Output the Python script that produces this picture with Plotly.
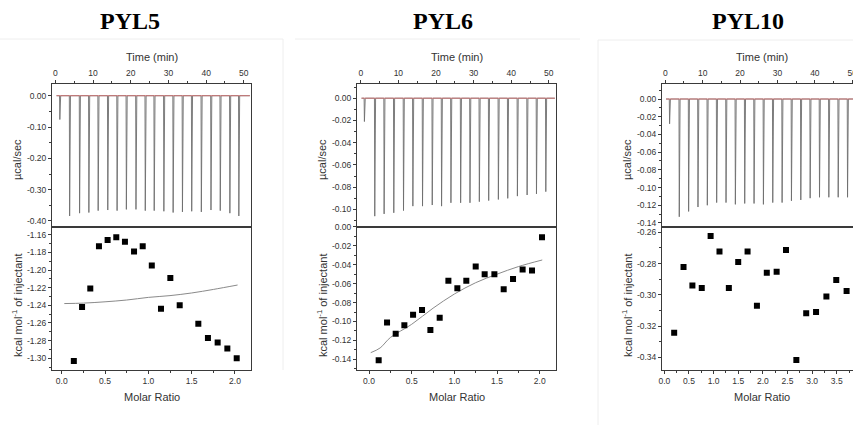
import plotly.graph_objects as go

W, H = 853, 425
FONT = "Liberation Sans, Arial, sans-serif"

panel_names = ["PYL5", "PYL6", "PYL10"]

# ---- raw ITC traces: injection times (min) and peak heights (ucal/sec)
pyl5_inj_t = [1.1, 3.70, 6.34, 8.80, 11.27, 13.82, 16.29, 18.75, 21.30, 23.77, 26.14,
              28.70, 31.16, 33.63, 36.09, 38.64, 41.20, 43.66, 46.21, 48.59]
pyl5_inj_peak = [-0.076, -0.384, -0.375, -0.373, -0.367, -0.365, -0.367, -0.363, -0.363, -0.367,
                 -0.367, -0.369, -0.373, -0.371, -0.369, -0.371, -0.365, -0.367, -0.375, -0.384]

pyl6_inj_t = [0.89, 3.64, 6.13, 8.70, 11.28, 13.77, 16.34, 18.92, 21.40, 23.89, 26.47,
              28.95, 31.44, 33.93, 36.50, 38.99, 41.56, 44.14, 46.63, 49.11]
pyl6_inj_peak = [-0.021, -0.106, -0.104, -0.103, -0.101, -0.097, -0.097, -0.096, -0.097, -0.094,
                 -0.094, -0.094, -0.093, -0.092, -0.091, -0.090, -0.088, -0.087, -0.086, -0.084]

pyl10_inj_t = [1.07, 3.66, 6.16, 8.66, 11.16, 13.66, 16.16, 18.66, 21.16, 23.66, 26.16,
               28.66, 31.16, 33.66, 36.16, 38.66, 41.16, 43.66, 46.16, 48.66]
pyl10_inj_peak = [-0.028, -0.133, -0.127, -0.122, -0.120, -0.117, -0.117, -0.119, -0.118, -0.118,
                  -0.119, -0.117, -0.117, -0.115, -0.114, -0.112, -0.111, -0.111, -0.111, -0.111]

trace_start = [0.3, 0.2, 0.2]
trace_end = [51.6, 51.6, 50.5]

# ---- integrated heats (kcal/mol of injectant) vs molar ratio
pyl5_ratio = [0.14, 0.235, 0.33, 0.43, 0.53, 0.63, 0.73, 0.835, 0.935, 1.04, 1.146,
              1.254, 1.362, 1.577, 1.688, 1.80, 1.912, 2.02]
pyl5_heat = [-1.303, -1.242, -1.221, -1.173, -1.166, -1.163, -1.168, -1.179, -1.173, -1.195,
             -1.244, -1.209, -1.240, -1.261, -1.277, -1.282, -1.289, -1.300]
pyl5_fit_ratio = [0.03, 0.25, 0.5, 0.75, 1.0, 1.25, 1.5, 1.75, 2.03]
pyl5_fit_heat = [-1.238, -1.2375, -1.236, -1.234, -1.231, -1.229, -1.226, -1.222, -1.217]

pyl6_ratio = [0.113, 0.211, 0.3125, 0.414, 0.516, 0.621, 0.719, 0.828, 0.93, 1.035,
              1.14, 1.25, 1.355, 1.469, 1.578, 1.6875, 1.80, 1.91, 2.027]
pyl6_heat = [-0.141, -0.101, -0.113, -0.104, -0.093, -0.088, -0.109, -0.096, -0.057, -0.065,
             -0.057, -0.042, -0.050, -0.050, -0.066, -0.055, -0.045, -0.046, -0.011]
pyl6_fit_ratio = [0.02, 0.13, 0.25, 0.5, 0.75, 1.0, 1.25, 1.5, 1.75, 2.03]
pyl6_fit_heat = [-0.133, -0.128, -0.117, -0.103, -0.086, -0.071, -0.059, -0.050, -0.042, -0.035]

pyl10_ratio = [0.20, 0.39, 0.57, 0.76, 0.94, 1.12, 1.31, 1.50, 1.69, 1.88, 2.08,
               2.28, 2.47, 2.68, 2.88, 3.08, 3.29, 3.49, 3.70]
pyl10_heat = [-0.3242, -0.2822, -0.294, -0.2956, -0.2623, -0.2722, -0.2956, -0.279, -0.2722,
              -0.307, -0.2858, -0.2852, -0.2713, -0.3417, -0.3118, -0.311, -0.301, -0.2905, -0.2975]

# ---- tick labels
time_ticks = [0, 10, 20, 30, 40, 50]
pyl5_raw_ticks = [0.0, -0.10, -0.20, -0.30, -0.40]
pyl6_raw_ticks = [0.0, -0.02, -0.04, -0.06, -0.08, -0.10]
pyl10_raw_ticks = [0.0, -0.02, -0.04, -0.06, -0.08, -0.10, -0.12, -0.14]
pyl5_heat_ticks = [-1.16, -1.18, -1.20, -1.22, -1.24, -1.26, -1.28, -1.30]
pyl6_heat_ticks = [0.0, -0.02, -0.04, -0.06, -0.08, -0.10, -0.12, -0.14]
pyl10_heat_ticks = [-0.26, -0.28, -0.30, -0.32, -0.34]
ratio_ticks_2 = [0.0, 0.5, 1.0, 1.5, 2.0]
ratio_ticks_35 = [0.0, 0.5, 1.0, 1.5, 2.0, 2.5, 3.0, 3.5]

panels = [
    dict(t=pyl5_inj_t, p=pyl5_inj_peak, rx=pyl5_ratio, ry=pyl5_heat,
         fx=pyl5_fit_ratio, fy=pyl5_fit_heat,
         left=52, right=251, time_range=[-0.9, 51.9], raw_range=[-0.4176, 0.039],
         raw_ticks=pyl5_raw_ticks, raw_minor=0.05,
         heat_range=[-1.3127, -1.1507], heat_ticks=pyl5_heat_ticks,
         ratio_range=[-0.112, 2.185], ratio_ticks=ratio_ticks_2, mirror=True),
    dict(t=pyl6_inj_t, p=pyl6_inj_peak, rx=pyl6_ratio, ry=pyl6_heat,
         fx=pyl6_fit_ratio, fy=pyl6_fit_heat,
         left=357, right=556, time_range=[-1.0, 51.9], raw_range=[-0.1153, 0.0132],
         raw_ticks=pyl6_raw_ticks, raw_minor=0.01,
         heat_range=[-0.1508, 0.0004], heat_ticks=pyl6_heat_ticks,
         ratio_range=[-0.141, 2.191], ratio_ticks=ratio_ticks_2, mirror=True),
    dict(t=pyl10_inj_t, p=pyl10_inj_peak, rx=pyl10_ratio, ry=pyl10_heat,
         fx=None, fy=None,
         left=662, right=853, time_range=[-0.88, 50.2], raw_range=[-0.144, 0.0175],
         raw_ticks=pyl10_raw_ticks, raw_minor=0.01,
         heat_range=[-0.3477, -0.2563], heat_ticks=pyl10_heat_ticks,
         ratio_range=[-0.047, 3.83], ratio_ticks=ratio_ticks_35, mirror=False),
]

TOP, MID, BOT = 83.5, 226.5, 369.5


def py(v):
    return 1 - v / H


def raw_xy(times, peaks, t0, t1):
    xs, ys = [t0], [0.0]
    for t, p in zip(times, peaks):
        xs += [t, t + 0.08, t + 0.3]
        ys += [0.0, p, 0.0]
    xs.append(t1)
    ys.append(0.0)
    return xs, ys


def fmt(vals, d):
    return [f"{v:.{d}f}" for v in vals]


axis_base = dict(showline=True, linecolor="#3a3a3a", linewidth=1, ticks="outside",
                 ticklen=3, tickwidth=1, tickcolor="#3a3a3a", showgrid=False,
                 zeroline=False, ticklabeloverflow="allow", automargin=False,
                 tickfont=dict(family=FONT, size=8.5, color="#333"))

fig = go.Figure()
layout = {}
ann = []

for i, pn in enumerate(panels):
    a_top, a_bot = 2 * i + 1, 2 * i + 2
    xd = [pn["left"] / W, min(pn["right"] / W, 1.0)]

    xs, ys = raw_xy(pn["t"], pn["p"], trace_start[i], trace_end[i])
    fig.add_trace(go.Scatter(x=xs, y=ys, mode="lines", line=dict(color="#6e6e6e", width=0.9),
                             xaxis=f"x{a_top}", yaxis=f"y{a_top}", showlegend=False))
    fig.add_trace(go.Scatter(x=[trace_start[i], trace_end[i]], y=[0, 0], mode="lines",
                             line=dict(color="#d46a6a", width=0.8),
                             xaxis=f"x{a_top}", yaxis=f"y{a_top}", showlegend=False))
    if pn["fx"] is not None:
        fig.add_trace(go.Scatter(x=pn["fx"], y=pn["fy"], mode="lines", line_shape="spline",
                                 line=dict(color="#8a8a8a", width=1),
                                 xaxis=f"x{a_bot}", yaxis=f"y{a_bot}", showlegend=False))
    fig.add_trace(go.Scatter(x=pn["rx"], y=pn["ry"], mode="markers",
                             marker=dict(symbol="square", size=6, color="black"),
                             xaxis=f"x{a_bot}", yaxis=f"y{a_bot}", showlegend=False))

    layout[f"xaxis{a_top}"] = dict(axis_base, domain=xd, anchor=f"y{a_top}", side="top",
                                   range=pn["time_range"], mirror=True,
                                   tickmode="array", tickvals=time_ticks,
                                   ticktext=[str(v) for v in time_ticks],
                                   minor=dict(dtick=5, tick0=0, ticks="outside", ticklen=2,
                                              tickcolor="#3a3a3a"))
    layout[f"yaxis{a_top}"] = dict(axis_base, domain=[py(MID), py(TOP)], anchor=f"x{a_top}",
                                   range=pn["raw_range"], mirror=pn["mirror"],
                                   tickmode="array", tickvals=pn["raw_ticks"],
                                   ticktext=fmt(pn["raw_ticks"], 2),
                                   minor=dict(dtick=pn["raw_minor"], tick0=0, ticks="outside",
                                              ticklen=2, tickcolor="#3a3a3a"))
    layout[f"xaxis{a_bot}"] = dict(axis_base, domain=xd, anchor=f"y{a_bot}",
                                   range=pn["ratio_range"], mirror=True,
                                   tickmode="array", tickvals=pn["ratio_ticks"],
                                   ticktext=fmt(pn["ratio_ticks"], 1),
                                   minor=dict(dtick=0.25, tick0=0, ticks="outside", ticklen=2,
                                              tickcolor="#3a3a3a"))
    layout[f"yaxis{a_bot}"] = dict(axis_base, domain=[py(BOT), py(MID)], anchor=f"x{a_bot}",
                                   range=pn["heat_range"], mirror=pn["mirror"],
                                   tickmode="array", tickvals=pn["heat_ticks"],
                                   ticktext=fmt(pn["heat_ticks"], 2),
                                   minor=dict(dtick=0.01, tick0=0, ticks="outside", ticklen=2,
                                              tickcolor="#3a3a3a"))

    cx = (pn["left"] + pn["left"] + 199) / 2
    lab = dict(xref="paper", yref="paper", showarrow=False, xanchor="center",
               yanchor="middle", font=dict(family=FONT, size=11, color="#333"))
    ann.append(dict(lab, x=cx / W, y=py(56.5), text="Time (min)"))
    ann.append(dict(lab, x=cx / W, y=py(396.5), text="Molar Ratio"))
    ann.append(dict(lab, x=(pn["left"] - 35) / W, y=py(160), text="µcal/sec", textangle=-90))
    ann.append(dict(lab, x=(pn["left"] - 35) / W, y=py(306), textangle=-90,
                    text="kcal mol<sup>-1</sup> of injectant"))

title_x = [130, 443, 748]
for name, tx in zip(panel_names, title_x):
    ann.append(dict(xref="paper", yref="paper", x=tx / W, y=py(21), showarrow=False,
                    text=f"<b>{name}</b>", xanchor="center", yanchor="middle",
                    font=dict(family="Liberation Serif, Times New Roman, serif", size=24,
                              color="black")))

faint = dict(type="line", xref="paper", yref="paper", line=dict(color="#eeeeee", width=1))
shapes = [
    dict(faint, x0=0, x1=283 / W, y0=py(39), y1=py(39)),
    dict(faint, x0=295 / W, x1=580 / W, y0=py(39), y1=py(39)),
    dict(faint, x0=598 / W, x1=1, y0=py(40), y1=py(40)),
    dict(faint, x0=283 / W, x1=283 / W, y0=py(39), y1=py(370)),
    dict(faint, x0=598 / W, x1=598 / W, y0=py(40), y1=py(425)),
]

fig.update_layout(width=W, height=H, margin=dict(l=0, r=0, t=0, b=0),
                  paper_bgcolor="white", plot_bgcolor="white", hovermode=False,
                  annotations=ann, shapes=shapes, showlegend=False, **layout)

fig.write_html("out.html", config={"displayModeBar": False, "staticPlot": True},
               post_script="document.body.style.margin='0';")
